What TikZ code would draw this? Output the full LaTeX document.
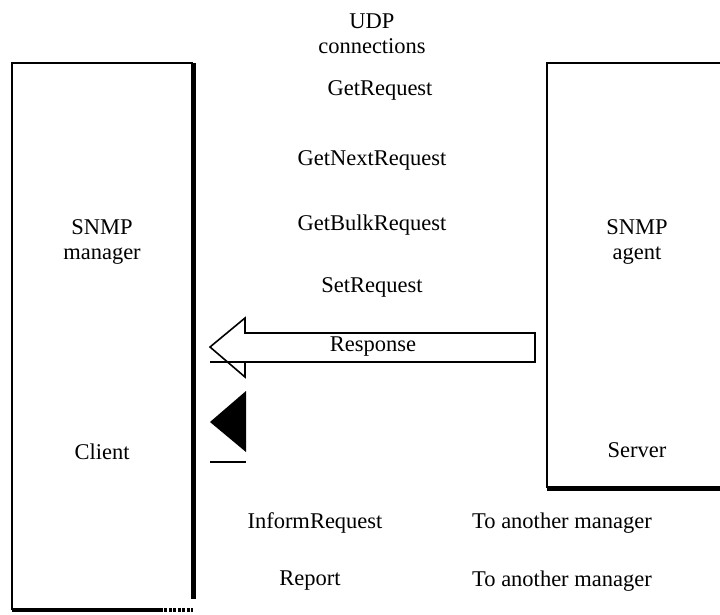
\documentclass[tikz,border=0pt]{standalone}
\usepackage{fontspec}
\setmainfont{Liberation Serif}
\usetikzlibrary{positioning}

\begin{document}
\begin{tikzpicture}[
      x=1pt, y=-1pt,
      txt/.style={font=\fontsize{22.5}{25}\selectfont, align=center, inner sep=0pt},
      msg/.style={txt},
      frame/.style={line width=1.6pt},
      heavy/.style={line width=5pt},
      area/.style={inner sep=0pt, minimum width=#1}
    ]
      \useasboundingbox (0,0) rectangle (720,615);

      \node[area=181pt, minimum height=547pt] (manager) at (102.5,336.5) {};
      \node[area=173pt, minimum height=425pt] (agent) at (633.5,275.5) {};
      \draw[frame] (manager.south west) -- (manager.north west) -- (manager.north east);
      \draw[heavy] (manager.north east) -- ([yshift=11pt]manager.south east);
      \draw[line width=4pt] (manager.south west) -- ++(148,0);
      \draw[line width=4pt, dash pattern=on 3pt off 1.5pt] ([xshift=148pt]manager.south west) -- (manager.south east);
      \draw[frame] (agent.north east) -- (agent.north west) -- (agent.south west);
      \draw[heavy] (agent.south west) -- (agent.south east);

      \node[txt] (udp) at (372,34) {UDP\\connections};
      \node[txt] (mgrname) at (102,242) {SNMP\\manager};
      \node[txt] (client) at (102,452) {Client};
      \node[txt] (agtname) at (637,242) {SNMP\\agent};
      \node[txt] (server) at (637,450) {Server};

      \node[msg] (getreq) at (380,90) {GetRequest};
      \node[msg] (getnext) at (372,160) {GetNextRequest};
      \node[msg] (getbulk) at (372,225) {GetBulkRequest};
      \node[msg] (setreq) at (372,287) {SetRequest};
      \draw[frame, line join=miter] (210,347) -- (245,318) -- (245,333) -- (535,333)
            -- (535,362) -- (245,362) -- (245,377) -- cycle;
      \draw[frame] (210,362) -- (245,362);
      \node[msg] (response) at (373,347) {Response};
      \fill (210,422) -- (246,391) -- (246,452) -- cycle;
      \draw[frame] (210,462) -- (246,462);

      \node[msg] (inform) at (315,523) {InformRequest};
      \node[txt, anchor=east] (toinform) at (652,523) {To another manager};
      \node[msg] (report) at (310,581) {Report};
      \node[txt, anchor=east] (toreport) at (652,581) {To another manager};
    \end{tikzpicture}
\end{document}
